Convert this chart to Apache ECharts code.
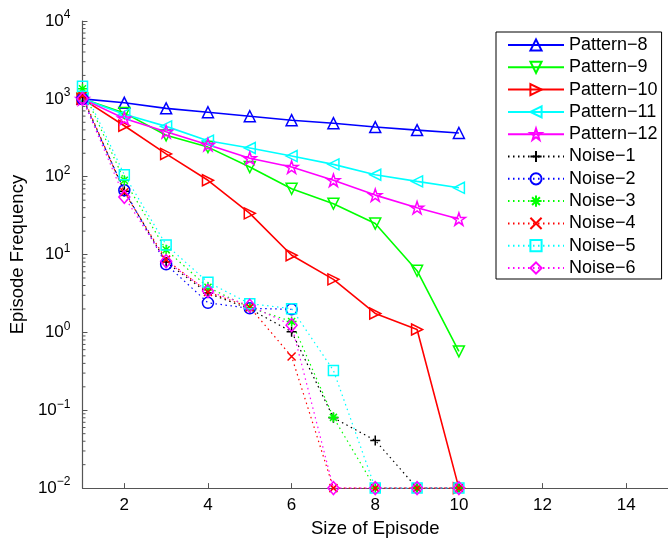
<!DOCTYPE html>
<html><head><meta charset="utf-8">
<script src="https://cdn.jsdelivr.net/npm/echarts@6/dist/echarts.min.js"></script>
<style>html,body{margin:0;padding:0;background:#fff}#c{width:668px;height:543px}</style>
</head><body><div id="c"></div>
<script>
// ---- data ----
const episodeSizes = [1, 2, 3, 4, 5, 6, 7, 8, 9, 10];
const pattern8  = [1000, 890, 755, 672, 598, 532, 487, 434, 397, 364];
const pattern9  = [1000, 660, 340, 240, 133, 70, 45, 25, 6.2, 0.57];
const pattern10 = [1000, 451, 196, 90, 33.8, 9.8, 4.8, 1.75, 1.09, 0.01];
const pattern11 = [1000, 635, 443, 290, 234, 184, 144, 106, 87, 72];
const pattern12 = [1000, 560, 378, 258, 173, 133, 90, 58, 40, 28.6];
const noise1 = [1050, 65, 8.0, 3.2, 2.0, 1.02, 0.08, 0.041, 0.01, 0.01];
const noise2 = [1000, 67, 7.5, 2.4, 2.04, 1.98, null, null, null, null];
const noise3 = [1350, 90, 11.5, 3.8, 2.08, 1.38, 0.081, 0.01, 0.01, 0.01];
const noise4 = [1100, 63, 8.6, 3.3, 2.1, 0.49, 0.01, 0.01, 0.01, 0.01];
const noise5 = [1450, 106, 13.3, 4.4, 2.34, 2.02, 0.325, 0.01, 0.01, 0.01];
const noise6 = [1000, 55, 8.2, 3.4, 2.2, 1.24, 0.01, 0.01, 0.01, 0.01];
const xTickValues = [2, 4, 6, 8, 10, 12, 14];
const yDecades = [0.01, 0.1, 1, 10, 100, 1000, 10000];
const minorFactors = [2, 3, 4, 5, 6, 7, 8, 9];

// ---- styling ----
const F = '"Liberation Sans", Arial, Helvetica, sans-serif';
const AX = '#555';
const P_PLUS = 'path://M5,0L5,10M0,5L10,5';
const P_CROSS = 'path://M0,0L10,10M10,0L0,10';
const P_AST = 'path://M5,0L5,10M0,5L10,5M1.5,1.5L8.5,8.5M8.5,1.5L1.5,8.5';
const P_STAR = 'path://M50,0L61.23,34.55L97.55,34.55L68.17,55.9L79.39,90.45L50,69.1L20.61,90.45L31.83,55.9L2.45,34.55L38.77,34.55Z';

function mk(name, vals, color, symbol, size, dotted, extra) {
  return Object.assign({
    name: name, type: 'line',
    data: episodeSizes.map((x, i) => [x, vals[i]]),
    symbol: symbol, symbolSize: size, showAllSymbol: true,
    lineStyle: dotted ? {color: color, width: 1.2, type: [1.5, 3.5]} : {color: color, width: 1.6, type: 'solid'},
    itemStyle: {color: 'rgba(0,0,0,0)', borderColor: color, borderWidth: 1.5},
    emphasis: {disabled: true},
    clip: true, z: 3
  }, extra || {});
}

const series = [
  mk('Pattern−8', pattern8, '#0000ff', 'triangle', 11, false),
  mk('Pattern−9', pattern9, '#00ff00', 'triangle', 11, false, {symbolRotate: 180}),
  mk('Pattern−10', pattern10, '#ff0000', 'triangle', 11, false, {symbolRotate: -90}),
  mk('Pattern−11', pattern11, '#00ffff', 'triangle', 11, false, {symbolRotate: 90}),
  mk('Pattern−12', pattern12, '#ff00ff', P_STAR, 13, false, {symbolKeepAspect: true}),
  mk('Noise−1', noise1, '#000000', P_PLUS, 10, true),
  mk('Noise−2', noise2, '#0000ff', 'circle', 11, true),
  mk('Noise−3', noise3, '#00ff00', P_AST, 10, true),
  mk('Noise−4', noise4, '#ff0000', P_CROSS, 8, true),
  mk('Noise−5', noise5, '#00ffff', 'rect', 10, true),
  mk('Noise−6', noise6, '#ff00ff', 'diamond', [11, 13], true)
];

const minorTicks = [];
yDecades.slice(0, -1).forEach(d => minorFactors.forEach(m => minorTicks.push(d * m)));
series.push({
  type: 'custom', name: '_minor', silent: true, clip: false, z: 1,
  data: minorTicks.map(v => [1, v]),
  renderItem: function (params, api) {
    const p = api.coord([api.value(0), api.value(1)]);
    return {type: 'line', shape: {x1: p[0], y1: p[1], x2: p[0] + 3, y2: p[1]},
            style: {stroke: AX, lineWidth: 1}};
  }
});

const chart = echarts.init(document.getElementById('c'));
chart.setOption({
  animation: false,
  backgroundColor: '#fff',
  grid: {left: 79, top: 21, width: 595, height: 470},
  xAxis: {
    type: 'value', min: 1, max: 15,
    name: 'Size of Episode', nameLocation: 'middle', nameGap: 30,
    nameTextStyle: {fontSize: 18.5, color: '#000', fontFamily: F},
    axisLine: {lineStyle: {color: AX, width: 1.2}},
    axisTick: {inside: true, length: 5, customValues: xTickValues, lineStyle: {color: AX}},
    axisLabel: {customValues: xTickValues, fontSize: 17, color: '#000', fontFamily: F, margin: 9},
    splitLine: {show: false}
  },
  yAxis: {
    type: 'log', logBase: 10, min: 0.01, max: 10000,
    name: 'Episode Frequency', nameLocation: 'middle', nameGap: 46,
    nameTextStyle: {fontSize: 18.5, color: '#000', fontFamily: F},
    axisLine: {lineStyle: {color: AX, width: 1.2}},
    axisTick: {inside: true, length: 5, lineStyle: {color: AX}},
    axisLabel: {
      margin: 12, color: '#000', fontFamily: F,
      formatter: function (v) {
        const e = Math.round(Math.log10(v));
        return '{b|10}{e|' + String(e).replace('-', '−') + '}';
      },
      rich: {
        b: {fontSize: 17, fontFamily: F, color: '#000'},
        e: {fontSize: 12, fontFamily: F, color: '#000', padding: [0, 0, 12, 0]}
      }
    },
    splitLine: {show: false}
  },
  legend: {
    orient: 'vertical', left: 496, top: 32,
    itemWidth: 56, itemHeight: 14, itemGap: 4.3,
    padding: [4, 4, 2, 11],
    borderColor: '#000', borderWidth: 1, backgroundColor: '#fff',
    textStyle: {fontSize: 18, color: '#000', fontFamily: F},
    selectedMode: false,
    data: series.filter(s => s.type === 'line').map(s => s.name)
  },
  series: series
});
</script></body></html>
